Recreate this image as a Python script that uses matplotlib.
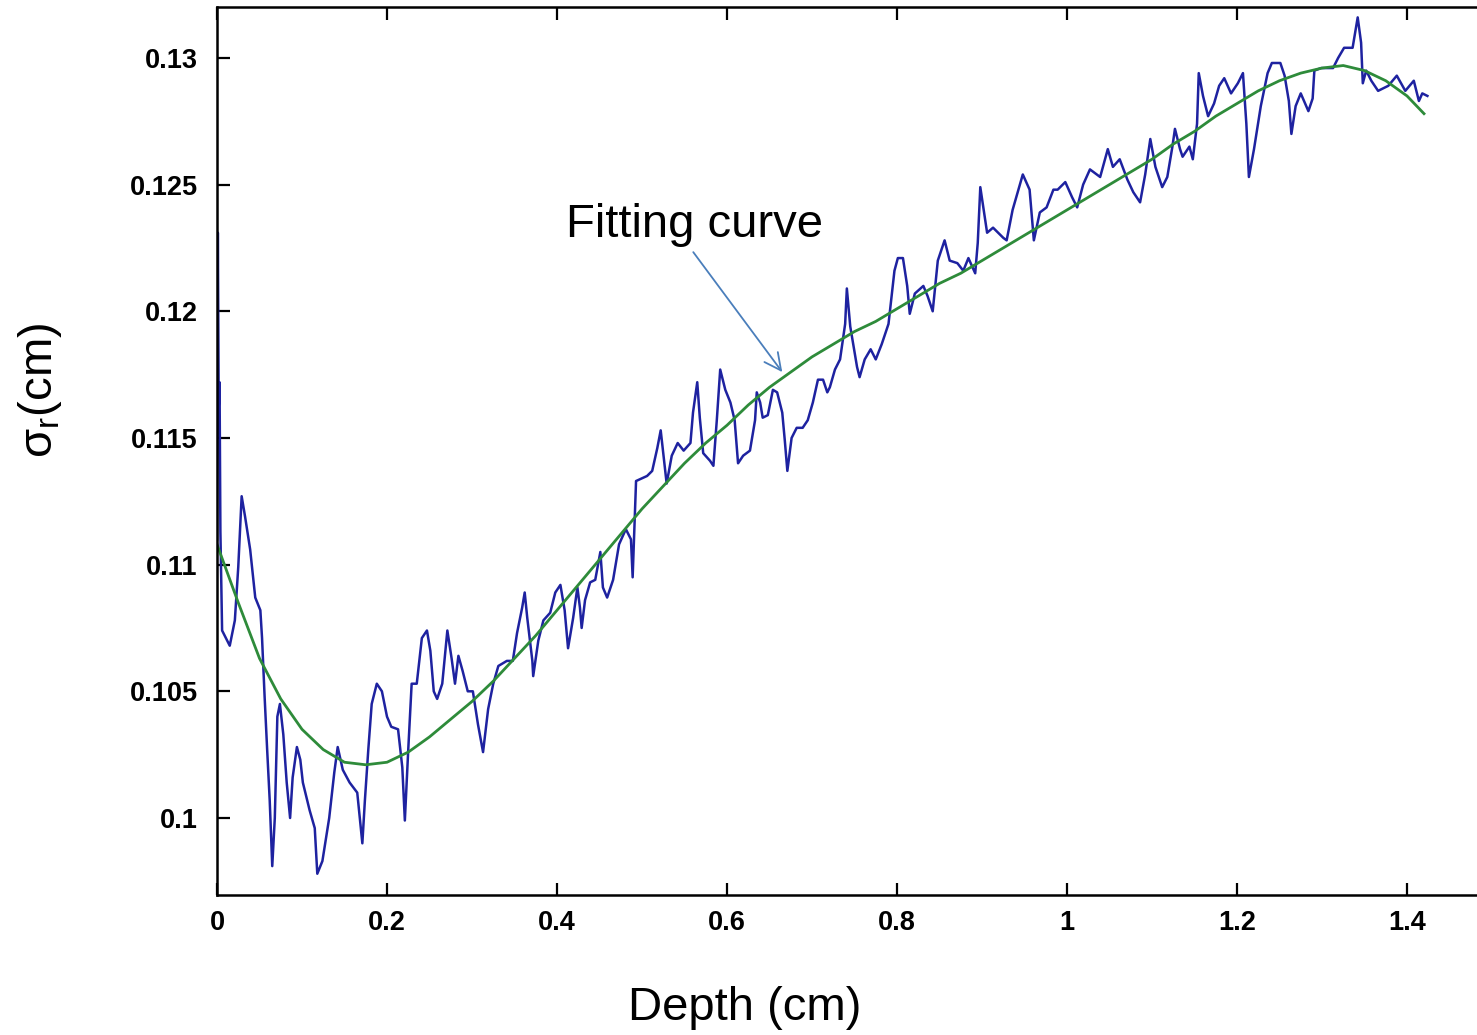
import matplotlib
matplotlib.use('Agg')
import matplotlib.pyplot as plt

plt.rcParams['font.family'] = ['Liberation Sans', 'DejaVu Sans']
plt.rcParams['mathtext.fontset'] = 'custom'
plt.rcParams['mathtext.rm'] = 'Liberation Sans'

depth = [0.000, 0.001, 0.002, 0.003, 0.004, 0.006, 0.015, 0.021, 0.025, 0.029,
         0.033, 0.039, 0.045, 0.051, 0.053, 0.056, 0.059, 0.062, 0.065, 0.068,
         0.071, 0.074, 0.078, 0.082, 0.086, 0.089, 0.094, 0.098, 0.101, 0.109,
         0.115, 0.118, 0.124, 0.132, 0.138, 0.142, 0.148, 0.156, 0.165, 0.171,
         0.174, 0.178, 0.182, 0.188, 0.194, 0.200, 0.205, 0.213, 0.218, 0.221,
         0.225, 0.229, 0.235, 0.241, 0.247, 0.251, 0.255, 0.259, 0.265, 0.271,
         0.276, 0.280, 0.284, 0.289, 0.295, 0.301, 0.307, 0.313, 0.319, 0.325,
         0.331, 0.341, 0.348, 0.353, 0.359, 0.362, 0.365, 0.371, 0.372, 0.378,
         0.384, 0.392, 0.398, 0.404, 0.409, 0.413, 0.419, 0.424, 0.427, 0.429,
         0.433, 0.439, 0.445, 0.451, 0.454, 0.459, 0.466, 0.473, 0.481, 0.487,
         0.489, 0.493, 0.506, 0.512, 0.518, 0.522, 0.526, 0.529, 0.535, 0.542,
         0.549, 0.557, 0.560, 0.565, 0.568, 0.572, 0.580, 0.584, 0.588, 0.592,
         0.598, 0.604, 0.609, 0.613, 0.619, 0.627, 0.633, 0.635, 0.639, 0.642,
         0.648, 0.654, 0.659, 0.665, 0.668, 0.671, 0.676, 0.682, 0.689, 0.695,
         0.701, 0.707, 0.713, 0.718, 0.721, 0.727, 0.733, 0.739, 0.741, 0.745,
         0.753, 0.756, 0.762, 0.769, 0.775, 0.782, 0.790, 0.797, 0.801, 0.807,
         0.812, 0.815, 0.821, 0.831, 0.836, 0.842, 0.848, 0.856, 0.862, 0.871,
         0.878, 0.884, 0.892, 0.895, 0.898, 0.906, 0.913, 0.925, 0.929, 0.936,
         0.948, 0.956, 0.961, 0.968, 0.976, 0.984, 0.989, 0.998, 1.006, 1.012,
         1.019, 1.027, 1.039, 1.048, 1.054, 1.062, 1.071, 1.078, 1.086, 1.092,
         1.098, 1.104, 1.112, 1.118, 1.124, 1.127, 1.133, 1.136, 1.144, 1.148,
         1.153, 1.155, 1.160, 1.166, 1.173, 1.179, 1.185, 1.193, 1.201, 1.207,
         1.211, 1.214, 1.220, 1.228, 1.236, 1.241, 1.251, 1.256, 1.261, 1.264,
         1.269, 1.275, 1.284, 1.289, 1.291, 1.299, 1.313, 1.319, 1.326, 1.336,
         1.342, 1.346, 1.348, 1.352, 1.358, 1.366, 1.378, 1.388, 1.398, 1.408,
         1.414, 1.418, 1.424]
sigma = [0.1110, 0.1231, 0.1162, 0.1172, 0.1113, 0.1074, 0.1068, 0.1078, 0.1099, 0.1127,
         0.1119, 0.1106, 0.1087, 0.1082, 0.1071, 0.1048, 0.1027, 0.1007, 0.0981, 0.1000,
         0.1040, 0.1045, 0.1033, 0.1014, 0.1000, 0.1016, 0.1028, 0.1023, 0.1014, 0.1003,
         0.0996, 0.0978, 0.0983, 0.1000, 0.1018, 0.1028, 0.1019, 0.1014, 0.1010, 0.0990,
         0.1007, 0.1027, 0.1045, 0.1053, 0.1050, 0.1040, 0.1036, 0.1035, 0.1020, 0.0999,
         0.1027, 0.1053, 0.1053, 0.1071, 0.1074, 0.1066, 0.1050, 0.1047, 0.1053, 0.1074,
         0.1063, 0.1053, 0.1064, 0.1058, 0.1050, 0.1050, 0.1037, 0.1026, 0.1043, 0.1053,
         0.1060, 0.1062, 0.1062, 0.1073, 0.1083, 0.1089, 0.1079, 0.1062, 0.1056, 0.1070,
         0.1078, 0.1081, 0.1089, 0.1092, 0.1082, 0.1067, 0.1079, 0.1091, 0.1083, 0.1075,
         0.1086, 0.1093, 0.1094, 0.1105, 0.1091, 0.1087, 0.1094, 0.1108, 0.1114, 0.1110,
         0.1095, 0.1133, 0.1135, 0.1137, 0.1146, 0.1153, 0.1141, 0.1132, 0.1143, 0.1148,
         0.1145, 0.1148, 0.1160, 0.1172, 0.1158, 0.1144, 0.1141, 0.1139, 0.1157, 0.1177,
         0.1169, 0.1164, 0.1157, 0.1140, 0.1143, 0.1145, 0.1157, 0.1168, 0.1164, 0.1158,
         0.1159, 0.1169, 0.1168, 0.1160, 0.1149, 0.1137, 0.1150, 0.1154, 0.1154, 0.1157,
         0.1164, 0.1173, 0.1173, 0.1168, 0.1170, 0.1177, 0.1181, 0.1195, 0.1209, 0.1194,
         0.1178, 0.1174, 0.1181, 0.1185, 0.1181, 0.1187, 0.1195, 0.1216, 0.1221, 0.1221,
         0.1210, 0.1199, 0.1207, 0.1210, 0.1206, 0.1200, 0.1220, 0.1228, 0.1220, 0.1219,
         0.1216, 0.1221, 0.1215, 0.1227, 0.1249, 0.1231, 0.1233, 0.1229, 0.1228, 0.1240,
         0.1254, 0.1248, 0.1228, 0.1239, 0.1241, 0.1248, 0.1248, 0.1251, 0.1245, 0.1241,
         0.1250, 0.1256, 0.1253, 0.1264, 0.1257, 0.1260, 0.1252, 0.1247, 0.1243, 0.1254,
         0.1268, 0.1257, 0.1249, 0.1253, 0.1265, 0.1272, 0.1264, 0.1261, 0.1265, 0.1260,
         0.1274, 0.1294, 0.1285, 0.1277, 0.1282, 0.1289, 0.1292, 0.1286, 0.1290, 0.1294,
         0.1274, 0.1253, 0.1264, 0.1281, 0.1294, 0.1298, 0.1298, 0.1293, 0.1283, 0.1270,
         0.1281, 0.1286, 0.1279, 0.1284, 0.1295, 0.1296, 0.1296, 0.1300, 0.1304, 0.1304,
         0.1316, 0.1306, 0.1290, 0.1295, 0.1291, 0.1287, 0.1289, 0.1293, 0.1287, 0.1291,
         0.1283, 0.1286, 0.1285]

# fitted curve
fit_depth = [0.000, 0.025, 0.050, 0.075, 0.100, 0.125, 0.150, 0.175, 0.200, 0.225,
             0.250, 0.275, 0.300, 0.325, 0.350, 0.375, 0.400, 0.425, 0.450, 0.475,
             0.500, 0.525, 0.550, 0.575, 0.600, 0.625, 0.650, 0.675, 0.700, 0.725,
             0.750, 0.775, 0.800, 0.825, 0.850, 0.875, 0.900, 0.925, 0.950, 0.975,
             1.000, 1.025, 1.050, 1.075, 1.100, 1.125, 1.150, 1.175, 1.200, 1.225,
             1.250, 1.275, 1.300, 1.325, 1.350, 1.375, 1.400, 1.420]
fit_sigma = [0.1108, 0.1085, 0.1063, 0.1047, 0.1035, 0.1027, 0.1022, 0.1021, 0.1022, 0.1026,
             0.1032, 0.1039, 0.1046, 0.1054, 0.1063, 0.1072, 0.1082, 0.1092, 0.1102, 0.1112,
             0.1122, 0.1131, 0.1140, 0.1148, 0.1155, 0.1163, 0.1170, 0.1176, 0.1182, 0.1187,
             0.1192, 0.1196, 0.1201, 0.1206, 0.1211, 0.1215, 0.1220, 0.1225, 0.1230, 0.1235,
             0.1240, 0.1245, 0.1250, 0.1255, 0.1260, 0.1266, 0.1271, 0.1277, 0.1282, 0.1287,
             0.1291, 0.1294, 0.1296, 0.1297, 0.1295, 0.1291, 0.1285, 0.1278]

xticks = [0, 0.2, 0.4, 0.6, 0.8, 1, 1.2, 1.4]
xticklabels = ['0', '0.2', '0.4', '0.6', '0.8', '1', '1.2', '1.4']
yticks = [0.1, 0.105, 0.11, 0.115, 0.12, 0.125, 0.13]
yticklabels = ['0.1', '0.105', '0.11', '0.115', '0.12', '0.125', '0.13']

fig = plt.figure(figsize=(14.77, 10.35), dpi=100)
ax = fig.add_axes([217 / 1477, 140 / 1035, 1275 / 1477, 888 / 1035])

ax.plot(depth, sigma, color='#1e22a0', lw=1.8)
ax.plot(fit_depth, fit_sigma, color='#2e8b3a', lw=2.0)

ax.set_xlim(0, 1.5)
ax.set_ylim(0.09696, 0.13201)
ax.set_xticks(xticks)
ax.set_xticklabels(xticklabels, fontweight='bold', fontsize=19.5)
ax.set_yticks(yticks)
ax.set_yticklabels(yticklabels, fontweight='bold', fontsize=19.5)
ax.tick_params(direction='in', length=9, width=1.6, top=True, right=True)
ax.tick_params(axis='y', pad=14)
ax.tick_params(axis='x', pad=11)
for s in ax.spines.values():
    s.set_linewidth(1.8)

ax.annotate('Fitting curve', xy=(0.665, 0.1176), xytext=(0.562, 0.1234),
            fontsize=34, ha='center', va='center',
            arrowprops=dict(arrowstyle='->', color='#4a7ebb', lw=1.3,
                            mutation_scale=30, relpos=(0.48, 0.0),
                            shrinkA=2, shrinkB=0))

fig.text(745 / 1477, 1 - 1008 / 1035, 'Depth (cm)', fontsize=34,
         ha='center', va='center')
fig.text(40 / 1477, 1 - 390 / 1035, r'$\mathregular{\sigma_r}$(cm)', fontsize=34,
         ha='center', va='center', rotation=90)

fig.savefig('out.png', dpi=100)
